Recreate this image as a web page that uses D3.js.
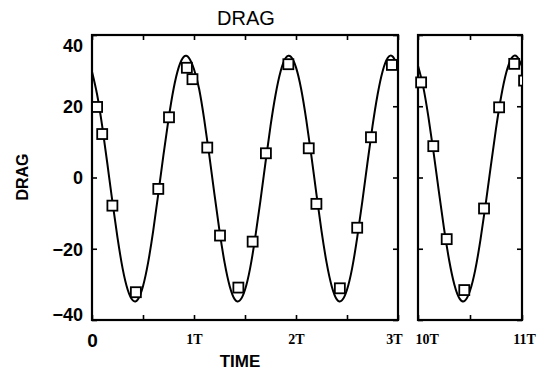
<!DOCTYPE html>
<html>
<head>
<meta charset="utf-8">
<script src="https://cdn.jsdelivr.net/npm/d3@7"></script>
<style>
  body { margin: 0; background: #fff; }
  svg { display: block; }
</style>
</head>
<body>
<svg id="chart" width="537" height="370"></svg>
<script>
// curve samples, every 0.05 T
const curveStep = 0.05;
const curveLeft = [
  29.7, 23.3, 14.4, 4.0, -6.8, -16.9, -25.5, -31.5, -34.5, -34.2,
  -30.5, -23.9, -15.0, -4.6, 6.2, 16.3, 24.9, 30.9, 33.9, 33.6,
  30.4, 24.9, 16.3, 6.2, -4.6, -15.0, -23.9, -30.5, -34.2, -34.5,
  -31.5, -25.5, -16.9, -6.8, 4.0, 14.4, 23.3, 29.9, 33.6, 33.9,
  30.9, 24.9, 16.3, 6.2, -4.6, -15.0, -23.9, -30.5, -34.2, -34.5,
  -31.5, -25.5, -16.9, -6.8, 4.0, 14.4, 23.3, 29.9, 33.6, 33.9,
  30.9
];
const curveRight = [
  31.4, 25.5, 17.0, 7.0, -3.8, -14.3, -23.3, -30.1, -34.0, -34.6,
  -31.8, -26.0, -17.6, -7.6, 3.2, 13.7, 22.8, 29.6, 33.5, 34.0,
  31.2
];

// measured points (time in T, drag)
const ptsLeftT = [0.05, 0.10, 0.20, 0.43, 0.65, 0.755, 0.93, 0.985, 1.13, 1.255,
  1.435, 1.575, 1.705, 1.925, 2.125, 2.20, 2.43, 2.60, 2.735, 2.94];
const ptsLeftV = [19.8, 12.2, -7.9, -32.2, -3.2, 16.9, 30.8, 27.6, 8.4, -16.3,
  -30.9, -18.0, 6.8, 31.8, 8.2, -7.4, -31.1, -14.1, 11.3, 31.6];
const ptsRightT = [10.03, 10.147, 10.276, 10.445, 10.635, 10.78, 10.925, 11.02];
const ptsRightV = [26.7, 8.8, -17.3, -31.6, -8.7, 19.7, 31.9, 27.2];

const yTicks = [-40, -20, 0, 20, 40];
const xTicksLeft = [0, 0.5, 1, 1.5, 2, 2.5, 3];
const xTicksRight = [10, 10.5, 11];

const svg = d3.select("#chart");
const plotTop = 35, plotBottom = 320;

const y = d3.scaleLinear().domain([-40, 40]).range([plotBottom, plotTop]);
const xL = d3.scaleLinear().domain([0, 3]).range([92, 398]);
const xR = d3.scaleLinear().domain([10, 11]).range([418, 522]);

svg.append("clipPath").attr("id", "clipR")
  .append("rect").attr("x", 405).attr("y", 0).attr("width", 117).attr("height", 370);
svg.append("clipPath").attr("id", "clipL")
  .append("rect").attr("x", 80).attr("y", 0).attr("width", 318).attr("height", 370);

function panel(x, curve, t0, pT, pV, ticksX, clipId, withYLabels) {
  const g = svg.append("g");

  // inward ticks on all four sides
  const left = g.append("g").attr("transform", `translate(${x.range()[0]},0)`)
    .call(d3.axisLeft(y).tickValues(yTicks).tickSizeInner(-5).tickSizeOuter(0).tickPadding(9));
  const right = g.append("g").attr("transform", `translate(${x.range()[1]},0)`)
    .call(d3.axisRight(y).tickValues(yTicks).tickSizeInner(-5).tickSizeOuter(0).tickFormat(""));
  const topAx = g.append("g").attr("transform", `translate(0,${plotTop})`)
    .call(d3.axisTop(x).tickValues(ticksX).tickSizeInner(-5).tickSizeOuter(0).tickFormat(""));
  const botAx = g.append("g").attr("transform", `translate(0,${plotBottom})`)
    .call(d3.axisBottom(x).tickValues(ticksX).tickSizeInner(-5).tickSizeOuter(0)
      .tickPadding(14)
      .tickFormat(d => Number.isInteger(d) ? (d === 0 ? "0" : d + "T") : ""));

  [left, right, topAx, botAx].forEach(a => {
    a.select(".domain").remove();
    a.selectAll(".tick line").attr("stroke", "#000").attr("stroke-width", 1.6);
  });

  if (withYLabels) {
    left.selectAll(".tick text")
      .attr("fill", "#000")
      .style("font-family", "Liberation Sans, Arial, sans-serif")
      .style("font-size", "18px")
      .style("font-weight", "bold")
      .attr("dy", d => d === 40 ? "0.9em" : d === -40 ? "0.05em" : "0.35em");
  } else {
    left.selectAll(".tick text").remove();
  }

  botAx.selectAll(".tick text")
    .attr("fill", "#000")
    .style("font-family", d => d === 0 ? "Liberation Sans, Arial, sans-serif" : "Liberation Serif, Times New Roman, serif")
    .style("font-size", d => d === 0 ? "19px" : "14px")
    .style("font-weight", "bold")
    .attr("text-anchor", d => d === 3 ? "end" : d === 10 ? "start" : "middle")
    .attr("dx", d => d === 3 ? "4" : d === 10 ? "-3" : d === 11 ? "2" : "0");

  // frame
  g.append("rect")
    .attr("x", x.range()[0]).attr("y", plotTop)
    .attr("width", x.range()[1] - x.range()[0]).attr("height", plotBottom - plotTop)
    .attr("fill", "none").attr("stroke", "#000").attr("stroke-width", 2.2);

  // curve
  const line = d3.line()
    .x((d, i) => x(t0 + i * curveStep))
    .y(d => y(d))
    .curve(d3.curveNatural);
  g.append("path").datum(curve)
    .attr("d", line)
    .attr("fill", "none").attr("stroke", "#000").attr("stroke-width", 2);

  // squares
  const s = 10;
  g.append("g").attr("clip-path", `url(#${clipId})`)
    .selectAll("rect").data(pT).join("rect")
    .attr("x", d => x(d) - s / 2)
    .attr("y", (d, i) => y(pV[i]) - s / 2)
    .attr("width", s).attr("height", s)
    .attr("fill", "#fff").attr("stroke", "#000").attr("stroke-width", 1.8);
}

panel(xL, curveLeft, 0, ptsLeftT, ptsLeftV, xTicksLeft, "clipL", true);
panel(xR, curveRight, 10, ptsRightT, ptsRightV, xTicksRight, "clipR", false);

// titles
svg.append("text")
  .attr("x", 246).attr("y", 25)
  .attr("text-anchor", "middle")
  .style("font-family", "Liberation Sans, Arial, sans-serif")
  .style("font-size", "20px")
  .text("DRAG");

svg.append("text")
  .attr("transform", "translate(28,177) rotate(-90)")
  .attr("text-anchor", "middle")
  .style("font-family", "Liberation Sans, Arial, sans-serif")
  .style("font-size", "16px")
  .style("font-weight", "bold")
  .text("DRAG");

svg.append("text")
  .attr("x", 240).attr("y", 367)
  .attr("text-anchor", "middle")
  .style("font-family", "Liberation Sans, Arial, sans-serif")
  .style("font-size", "17px")
  .style("font-weight", "bold")
  .text("TIME");
</script>
</body>
</html>
